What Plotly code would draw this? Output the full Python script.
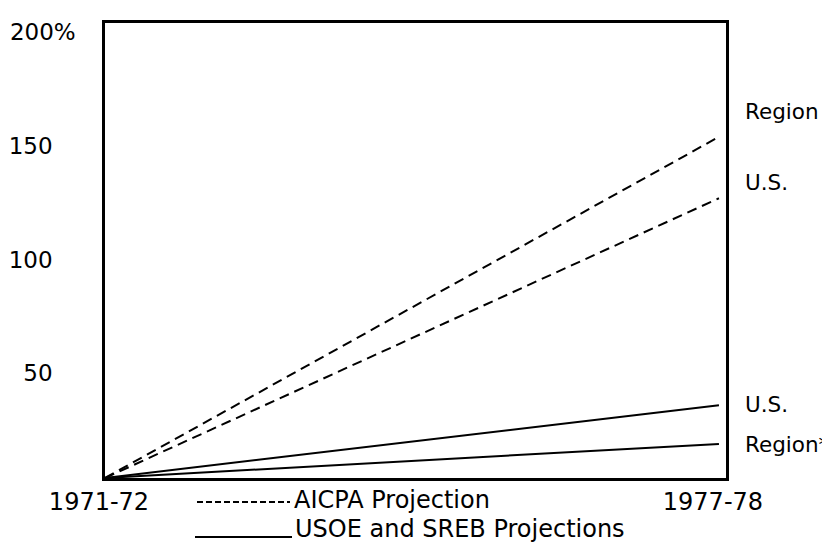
import plotly.graph_objects as go

periods = ["1971-72", "1977-78"]
aicpa_region = [0, 150]
aicpa_us = [0, 123]
usoe_us = [0, 32]
sreb_region = [0, 15]

ytick_vals = [50, 100, 150, 200]
ytick_text = ["50\u2003", "100\u2003", "150\u2003", "200%"]

FONT = "DejaVu Sans"
W, H = 830, 542
OFF = 6  # page offset
L, R, T, B = 103 - OFF, 724 - OFF, 21 - OFF, 476 - OFF

def px(x):
    return (x - OFF - L) / (R - L)

def py(y):
    return (B - (y - OFF)) / (B - T)

fig = go.Figure()
for vals, dash in [(aicpa_region, "10px,6px"), (aicpa_us, "10px,6px"),
                   (usoe_us, "solid"), (sreb_region, "solid")]:
    fig.add_trace(go.Scatter(x=periods, y=vals, mode="lines",
                             line=dict(color="black", width=2, dash=dash),
                             showlegend=False, hoverinfo="skip", cliponaxis=False))

fig.update_layout(
    width=W, height=H,
    margin=dict(l=L, r=W - R, t=T, b=H - B, autoexpand=False),
    paper_bgcolor="white", plot_bgcolor="white",
    font=dict(family=FONT, size=23, color="black"),
    xaxis=dict(type="category", range=[0, 1.0115], showgrid=False, zeroline=False,
               showline=True, linecolor="black", linewidth=2.5, mirror=True,
               ticks="", ticklabelstandoff=0, ticklabelshift=-6, automargin=False,
               tickfont=dict(size=24), ticklabeloverflow="allow"),
    yaxis=dict(range=[0, 200.05], showgrid=False, zeroline=False,
               showline=True, linecolor="black", linewidth=2.5, mirror=True,
               ticks="", tickvals=ytick_vals, ticktext=ytick_text,
               ticklabelstandoff=22, ticklabelshift=9, automargin=False,
               ticklabeloverflow="allow"),
)

# right-side labels
for text, y in [("Region", 110), ("U.S.", 180), ("U.S.", 402), ("Region*", 442)]:
    fig.add_annotation(x=px(741), y=py(y), xref="paper", yref="paper",
                       text=text, showarrow=False, xanchor="left", yanchor="middle",
                       font=dict(size=21.5))

# legend
fig.add_shape(type="line", xref="paper", yref="paper",
              x0=px(195), x1=px(288), y0=py(500), y1=py(500),
              line=dict(color="black", width=2, dash="6px,3px"))
fig.add_annotation(x=px(290), y=py(498), xref="paper", yref="paper",
                   text="AICPA Projection", showarrow=False,
                   xanchor="left", yanchor="middle", font=dict(size=24))
fig.add_shape(type="line", xref="paper", yref="paper",
              x0=px(193), x1=px(290), y0=py(535), y1=py(535),
              line=dict(color="black", width=2))
fig.add_annotation(x=px(291), y=py(527), xref="paper", yref="paper",
                   text="USOE and SREB Projections", showarrow=False,
                   xanchor="left", yanchor="middle", font=dict(size=24))

fig.write_html("out.html")
